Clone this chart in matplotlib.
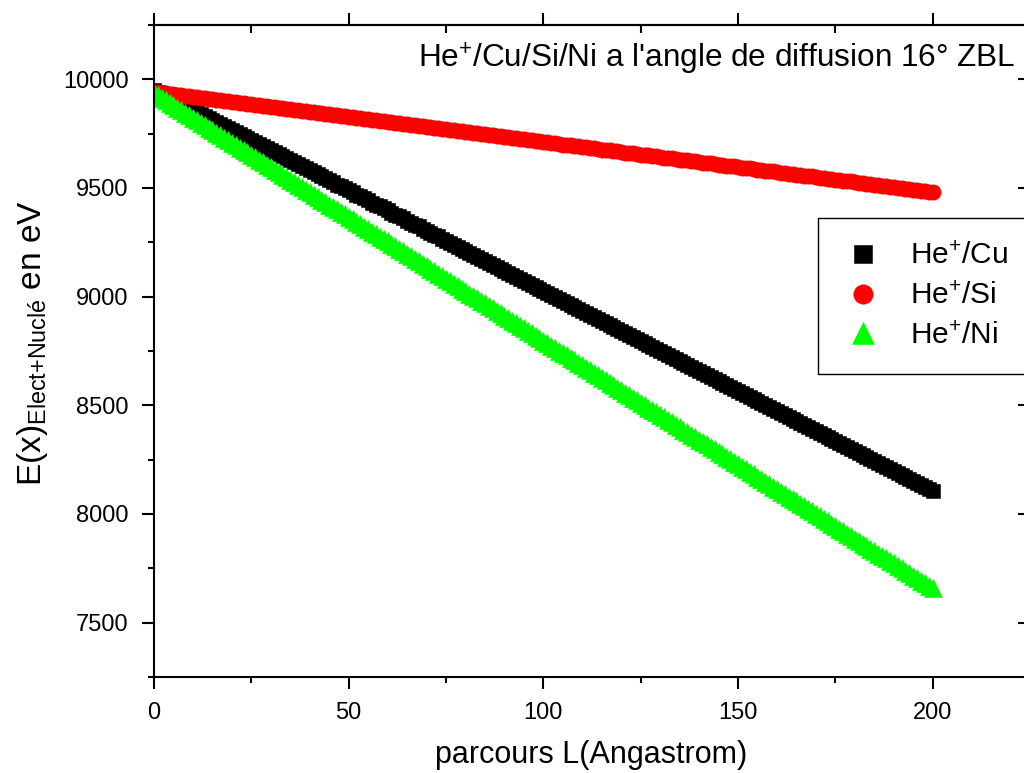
import matplotlib
matplotlib.use("Agg")
import matplotlib.pyplot as plt
from matplotlib.ticker import MultipleLocator

plt.rcParams['font.family'] = ['Liberation Sans', 'DejaVu Sans']
plt.rcParams['mathtext.fontset'] = 'custom'
plt.rcParams['mathtext.rm'] = 'Liberation Sans'
plt.rcParams['mathtext.it'] = 'Liberation Sans:italic'
plt.rcParams['mathtext.bf'] = 'Liberation Sans:bold'
plt.rcParams['mathtext.default'] = 'regular'

# path length in Angstrom (every 1 Å)
x_L = list(range(0, 201))

E_Cu = [9950, 9941, 9932, 9922, 9913, 9904, 9895, 9885, 9876, 9867,
        9858, 9849, 9839, 9830, 9821, 9812, 9802, 9793, 9784, 9775,
        9766, 9756, 9747, 9738, 9729, 9719, 9710, 9701, 9692, 9682,
        9673, 9664, 9655, 9646, 9636, 9627, 9618, 9609, 9599, 9590,
        9581, 9572, 9563, 9553, 9544, 9535, 9526, 9516, 9507, 9498,
        9489, 9480, 9470, 9461, 9452, 9443, 9433, 9424, 9415, 9406,
        9397, 9387, 9378, 9369, 9360, 9350, 9341, 9332, 9323, 9313,
        9304, 9295, 9286, 9277, 9267, 9258, 9249, 9240, 9230, 9221,
        9212, 9203, 9194, 9184, 9175, 9166, 9157, 9147, 9138, 9129,
        9120, 9111, 9101, 9092, 9083, 9074, 9064, 9055, 9046, 9037,
        9028, 9018, 9009, 9000, 8991, 8981, 8972, 8963, 8954, 8944,
        8935, 8926, 8917, 8908, 8898, 8889, 8880, 8871, 8861, 8852,
        8843, 8834, 8825, 8815, 8806, 8797, 8788, 8778, 8769, 8760,
        8751, 8742, 8732, 8723, 8714, 8705, 8695, 8686, 8677, 8668,
        8659, 8649, 8640, 8631, 8622, 8612, 8603, 8594, 8585, 8575,
        8566, 8557, 8548, 8539, 8529, 8520, 8511, 8502, 8492, 8483,
        8474, 8465, 8456, 8446, 8437, 8428, 8419, 8409, 8400, 8391,
        8382, 8373, 8363, 8354, 8345, 8336, 8326, 8317, 8308, 8299,
        8290, 8280, 8271, 8262, 8253, 8243, 8234, 8225, 8216, 8206,
        8197, 8188, 8179, 8170, 8160, 8151, 8142, 8133, 8123, 8114,
        8105]

E_Si = [9943, 9941, 9938, 9936, 9934, 9931, 9929, 9927, 9925, 9922,
        9920, 9918, 9915, 9913, 9911, 9908, 9906, 9904, 9901, 9899,
        9897, 9894, 9892, 9890, 9888, 9885, 9883, 9881, 9878, 9876,
        9874, 9871, 9869, 9867, 9864, 9862, 9860, 9858, 9855, 9853,
        9851, 9848, 9846, 9844, 9841, 9839, 9837, 9834, 9832, 9830,
        9828, 9825, 9823, 9821, 9818, 9816, 9814, 9811, 9809, 9807,
        9804, 9802, 9800, 9797, 9795, 9793, 9791, 9788, 9786, 9784,
        9781, 9779, 9777, 9774, 9772, 9770, 9767, 9765, 9763, 9761,
        9758, 9756, 9754, 9751, 9749, 9747, 9744, 9742, 9740, 9737,
        9735, 9733, 9730, 9728, 9726, 9724, 9721, 9719, 9717, 9714,
        9712, 9710, 9707, 9705, 9703, 9700, 9698, 9696, 9694, 9691,
        9689, 9687, 9684, 9682, 9680, 9677, 9675, 9673, 9670, 9668,
        9666, 9663, 9661, 9659, 9657, 9654, 9652, 9650, 9647, 9645,
        9643, 9640, 9638, 9636, 9633, 9631, 9629, 9627, 9624, 9622,
        9620, 9617, 9615, 9613, 9610, 9608, 9606, 9603, 9601, 9599,
        9597, 9594, 9592, 9590, 9587, 9585, 9583, 9580, 9578, 9576,
        9573, 9571, 9569, 9566, 9564, 9562, 9560, 9557, 9555, 9553,
        9550, 9548, 9546, 9543, 9541, 9539, 9536, 9534, 9532, 9530,
        9527, 9525, 9523, 9520, 9518, 9516, 9513, 9511, 9509, 9506,
        9504, 9502, 9499, 9497, 9495, 9493, 9490, 9488, 9486, 9483,
        9481]

E_Ni = [9937, 9926, 9914, 9903, 9891, 9880, 9869, 9857, 9846, 9834,
        9823, 9812, 9800, 9789, 9778, 9766, 9755, 9743, 9732, 9721,
        9709, 9698, 9686, 9675, 9664, 9652, 9641, 9629, 9618, 9607,
        9595, 9584, 9573, 9561, 9550, 9538, 9527, 9516, 9504, 9493,
        9481, 9470, 9459, 9447, 9436, 9424, 9413, 9402, 9390, 9379,
        9368, 9356, 9345, 9333, 9322, 9311, 9299, 9288, 9276, 9265,
        9254, 9242, 9231, 9219, 9208, 9197, 9185, 9174, 9162, 9151,
        9140, 9128, 9117, 9106, 9094, 9083, 9071, 9060, 9049, 9037,
        9026, 9014, 9003, 8992, 8980, 8969, 8957, 8946, 8935, 8923,
        8912, 8901, 8889, 8878, 8866, 8855, 8844, 8832, 8821, 8809,
        8798, 8787, 8775, 8764, 8752, 8741, 8730, 8718, 8707, 8695,
        8684, 8673, 8661, 8650, 8639, 8627, 8616, 8604, 8593, 8582,
        8570, 8559, 8547, 8536, 8525, 8513, 8502, 8490, 8479, 8468,
        8456, 8445, 8434, 8422, 8411, 8399, 8388, 8377, 8365, 8354,
        8342, 8331, 8320, 8308, 8297, 8285, 8274, 8263, 8251, 8240,
        8229, 8217, 8206, 8194, 8183, 8172, 8160, 8149, 8137, 8126,
        8115, 8103, 8092, 8080, 8069, 8058, 8046, 8035, 8023, 8012,
        8001, 7989, 7978, 7967, 7955, 7944, 7932, 7921, 7910, 7898,
        7887, 7875, 7864, 7853, 7841, 7830, 7818, 7807, 7796, 7784,
        7773, 7762, 7750, 7739, 7727, 7716, 7705, 7693, 7682, 7670,
        7659]

labels = ['He$^{+}$/Cu', 'He$^{+}$/Si', 'He$^{+}$/Ni']
title_text = "He$^{+}$/Cu/Si/Ni a l'angle de diffusion 16° ZBL"
xlabel_text = 'parcours L(Angastrom)'
ylabel_text = 'E(x)$_{Elect{+}Nucl\u00e9}$ en eV'

fig = plt.figure(figsize=(10.24, 7.73), dpi=100)
ax = fig.add_axes([154/1024, 96/773, 876/1024, 652/773])

ax.plot(x_L, E_Cu, linestyle='none', marker='s', markersize=10,
        color='black', mec='black', mew=0.4, label=labels[0])
ax.plot(x_L, E_Si, linestyle='none', marker='o', markersize=11,
        color='#ff0000', mec='#ff0000', mew=0.4, label=labels[1])
ax.plot(x_L, E_Ni, linestyle='none', marker='^', markersize=12.5,
        color='#00ff00', mec='#00ff00', mew=0.4, label=labels[2])

ax.set_xlim(0, 225)
ax.set_ylim(7250, 10250)
ax.xaxis.set_major_locator(MultipleLocator(50))
ax.xaxis.set_minor_locator(MultipleLocator(25))
ax.yaxis.set_major_locator(MultipleLocator(500))
ax.yaxis.set_minor_locator(MultipleLocator(250))

for s in ax.spines.values():
    s.set_linewidth(1.5)

ax.tick_params(which='major', direction='out', length=8.6, width=1.5,
               labelsize=17, pad=9.5, top=False, right=False)
ax.tick_params(which='minor', direction='out', length=4.3, width=1.5,
               top=False, right=False)

# top axis: major ticks out, minor ticks in
secx = ax.secondary_xaxis('top')
secx.xaxis.set_major_locator(MultipleLocator(50))
secx.xaxis.set_minor_locator(MultipleLocator(25))
secx.tick_params(which='major', direction='out', length=8.6, width=1.5,
                 labeltop=False)
secx.tick_params(which='minor', direction='in', length=5.5, width=1.5)
secx.spines['top'].set_linewidth(1.5)

# right axis: ticks in
secy = ax.secondary_yaxis('right')
secy.yaxis.set_major_locator(MultipleLocator(500))
secy.yaxis.set_minor_locator(MultipleLocator(250))
secy.tick_params(which='major', direction='in', length=8.6, width=1.5,
                 labelright=False)
secy.tick_params(which='minor', direction='in', length=4.3, width=1.5)
secy.spines['right'].set_linewidth(1.5)

fig.text(591/1024, 1 - 755/773, xlabel_text, fontsize=22,
         ha='center', va='center')
fig.text(33/1024, 1 - 343/773, ylabel_text, fontsize=24, rotation=90,
         ha='center', va='center')

fig.text(1015/1024, 1 - 59/773, title_text, fontsize=22.7,
         ha='right', va='center')

leg = ax.legend(loc='upper left', bbox_to_anchor=(818/1024, 1 - 218/773),
                bbox_transform=fig.transFigure, fontsize=21.5, frameon=True,
                fancybox=False, edgecolor='black', framealpha=1,
                borderpad=0.82, handlelength=1.4, handletextpad=0.85,
                labelspacing=0.39, markerscale=1.27, numpoints=1,
                borderaxespad=0)
leg.get_frame().set_linewidth(1.0)

fig.savefig('out.png', dpi=100)
